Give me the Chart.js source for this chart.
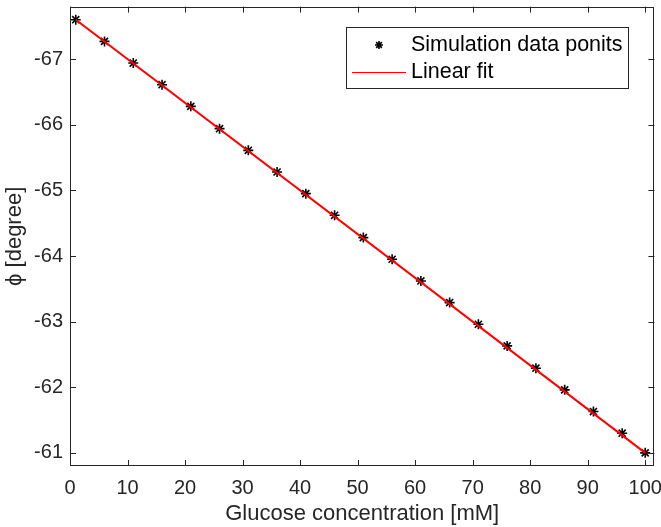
<!DOCTYPE html>
<html>
<head>
<meta charset="utf-8">
<script src="https://cdn.jsdelivr.net/npm/chart.js@4/dist/chart.umd.min.js"></script>
<style>
  html, body { margin: 0; padding: 0; background: #fff; }
  #wrap { width: 661px; height: 527px; position: relative; }
</style>
</head>
<body>
<div id="wrap"><canvas id="c" width="661" height="527"></canvas></div>
<script>
// ---- Data ----
const glucose = [1, 6, 11, 16, 21, 26, 31, 36, 41, 46, 51, 56, 61, 66, 71, 76, 81, 86, 91, 96, 100];
const phi = [-67.60, -67.27, -66.94, -66.61, -66.28, -65.94, -65.61, -65.28, -64.95, -64.62, -64.28,
             -63.95, -63.62, -63.29, -62.96, -62.63, -62.29, -61.96, -61.63, -61.30, -61.00];
const fitX = [1, 100];
const fitY = [-67.60, -61.00];
const xTicks = [0, 10, 20, 30, 40, 50, 60, 70, 80, 90, 100];
const yTicks = [-67, -66, -65, -64, -63, -62, -61];
const seriesLabels = ['Simulation data ponits', 'Linear fit'];
const xTitle = 'Glucose concentration [mM]';
const yTitle = '\u03D5 [degree]';

const AX = '#262626';
const FONT = 'Liberation Sans, Arial, Helvetica, sans-serif';

const boxTicks = {
  id: 'boxTicks',
  afterDatasetsDraw(chart) {
    const { ctx, chartArea: a, scales: { x, y } } = chart;
    ctx.save();
    ctx.strokeStyle = AX;
    ctx.lineWidth = 1;
    ctx.strokeRect(Math.round(a.left) + 0.5, Math.round(a.top) + 0.5,
                   Math.round(a.right - a.left) - 1, Math.round(a.bottom - a.top) - 1);
    const L = 6;
    ctx.beginPath();
    xTicks.forEach(v => {
      const px = Math.round(x.getPixelForValue(v)) + 0.5;
      ctx.moveTo(px, a.bottom); ctx.lineTo(px, a.bottom - L);
      ctx.moveTo(px, a.top); ctx.lineTo(px, a.top + L);
    });
    yTicks.forEach(v => {
      const py = Math.round(y.getPixelForValue(v)) + 0.5;
      ctx.moveTo(a.left, py); ctx.lineTo(a.left + L, py);
      ctx.moveTo(a.right, py); ctx.lineTo(a.right - L, py);
    });
    ctx.stroke();
    ctx.restore();
  },
  afterDraw(chart) {
    const { ctx, chartArea: a } = chart;
    const bx = Math.round(a.right - 308), by = Math.round(a.top + 20), bw = 282, bh = 61;
    ctx.save();
    ctx.fillStyle = '#fff';
    ctx.fillRect(bx, by, bw, bh);
    ctx.strokeStyle = AX;
    ctx.lineWidth = 1;
    ctx.strokeRect(bx + 0.5, by + 0.5, bw, bh);
    const r1 = by + 18, r2 = by + 45;
    ctx.strokeStyle = '#000';
    ctx.fillStyle = '#000';
    ctx.lineWidth = 1.6;
    Chart.helpers.drawPoint(ctx, { pointStyle: 'star', radius: 4, rotation: 0, borderWidth: 1.6 }, bx + 33, r1);
    ctx.beginPath();
    ctx.strokeStyle = '#ff0000';
    ctx.lineWidth = 1;
    ctx.moveTo(bx + 6, r2 + 0.5); ctx.lineTo(bx + 60, r2 + 0.5);
    ctx.stroke();
    ctx.fillStyle = '#000';
    ctx.font = '21.5px ' + FONT;
    ctx.textBaseline = 'middle';
    ctx.textAlign = 'left';
    ctx.fillText(seriesLabels[0], bx + 65, r1);
    ctx.fillText(seriesLabels[1], bx + 65, r2);
    ctx.restore();
  }
};

new Chart(document.getElementById('c'), {
  type: 'scatter',
  data: {
    datasets: [
      {
        label: seriesLabels[0],
        data: glucose.map((g, i) => ({ x: g, y: phi[i] })),
        pointStyle: 'star',
        radius: 5,
        borderColor: '#000',
        backgroundColor: '#000',
        borderWidth: 1.6,
        showLine: false,
        order: 1
      },
      {
        label: seriesLabels[1],
        data: fitX.map((g, i) => ({ x: g, y: fitY[i] })),
        showLine: true,
        borderColor: '#ff0000',
        borderWidth: 2,
        pointRadius: 0,
        fill: false,
        order: 0
      }
    ]
  },
  options: {
    responsive: false,
    animation: false,
    layout: { padding: { top: 3, right: 6, left: 0, bottom: 0 } },
    plugins: { legend: { display: false }, tooltip: { enabled: false } },
    scales: {
      x: {
        type: 'linear',
        min: 0, max: 101.6,
        afterBuildTicks: s => { s.ticks = xTicks.map(v => ({ value: v })); },
        afterFit: s => { s.height = 61; s.paddingLeft = 0; s.paddingRight = 0; },
        grid: { display: false, drawTicks: false },
        border: { display: false },
        ticks: { color: AX, font: { family: FONT, size: 20 }, padding: 10, maxRotation: 0 },
        title: { display: true, text: xTitle, color: AX, font: { family: FONT, size: 22 }, padding: { top: 0, bottom: 0 } }
      },
      y: {
        type: 'linear',
        reverse: true,
        min: -67.8, max: -60.8,
        afterBuildTicks: s => { s.ticks = yTicks.map(v => ({ value: v })); },
        afterFit: s => { s.width = 70; s.paddingTop = 0; s.paddingBottom = 0; },
        grid: { display: false, drawTicks: false },
        border: { display: false },
        ticks: { color: AX, font: { family: FONT, size: 20 }, padding: 7 },
        title: { display: true, text: yTitle, color: AX, font: { family: FONT, size: 22 }, padding: { top: 2, bottom: 0 } }
      }
    }
  },
  plugins: [boxTicks]
});
</script>
</body>
</html>
